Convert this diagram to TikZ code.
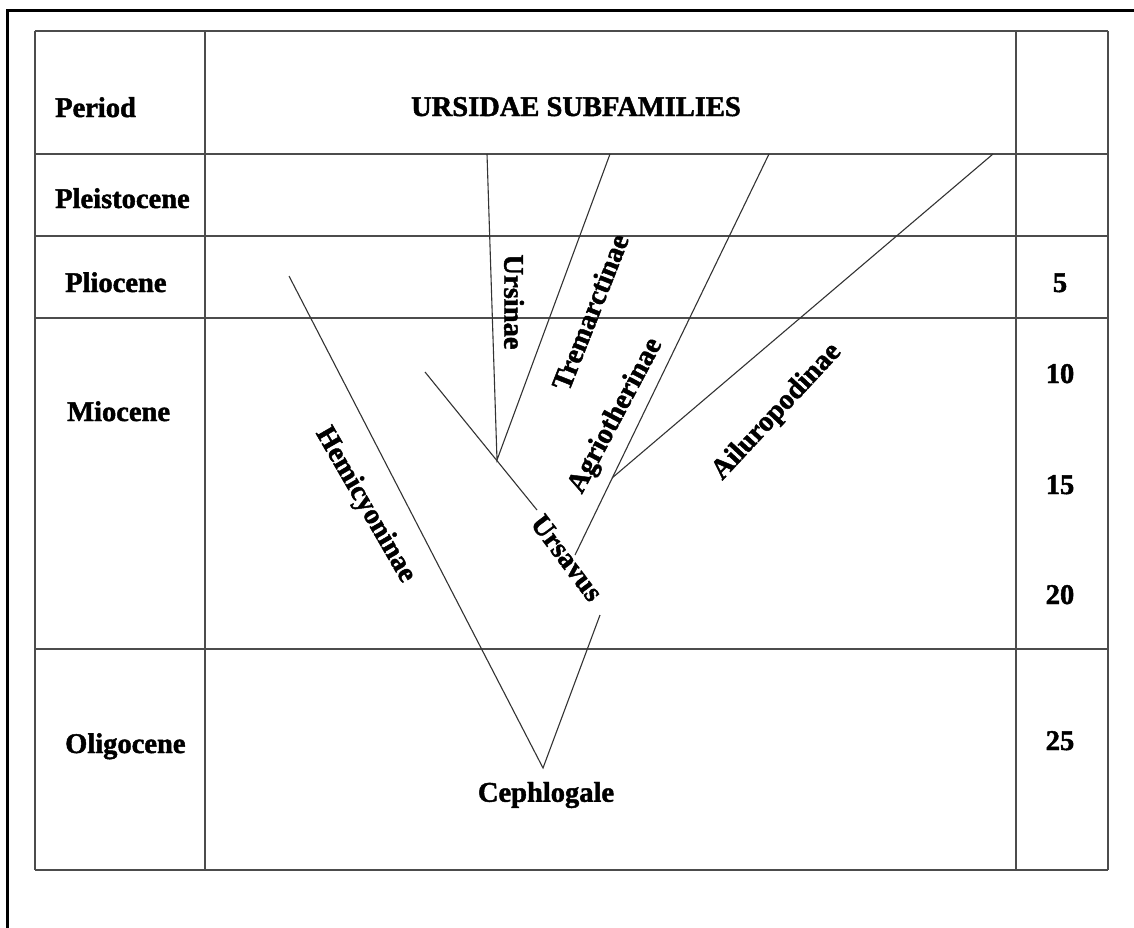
\documentclass[tikz,border=0pt]{standalone}
\usepackage{fontspec}
\setmainfont{Liberation Serif}
% heavy serif used for every label in the chart
\newfontfamily\heavy[BoldFeatures={FakeBold=1.6}]{Liberation Serif}
\begin{document}
\begin{tikzpicture}[x=1pt,y=-1pt,
  grid/.style={draw=black!70,line width=1.6pt},
  frame/.style={draw=black,line width=3pt},
  branch/.style={draw=black!80,line width=1.1pt},
  lbl/.style={inner sep=0pt,font=\heavy\fontsize{28.5}{34}\selectfont\bfseries},
  period/.style={lbl,anchor=base west},
  age/.style={lbl,anchor=base}]
\useasboundingbox (0,0) rectangle (1134,927);
\fill[white] (0,0) rectangle (1134,927);

% outer page frame
\draw[frame] (7,940) -- (7,10) -- (1145,10);

% table grid
\foreach \yy in {31,154,236,318,649,870}
  \draw[grid] (35,\yy) -- (1108,\yy);
\foreach \xx in {35,205,1016,1108}
  \draw[grid] (\xx,31) -- (\xx,870);

% headings and periods
\node[period] (hPeriod) at (55,117) {Period};
\node[lbl,anchor=base] (hSub) at (576,116) {URSIDAE SUBFAMILIES};
\node[period] (pPleis) at (55,208) {Pleistocene};
\node[period] (pPlio) at (65,292) {Pliocene};
\node[period] (pMio) at (67,421) {Miocene};
\node[period] (pOlig) at (65,753) {Oligocene};

% ages (million years)
\node[age] (a5)  at (1060,292) {5};
\node[age] (a10) at (1060,383) {10};
\node[age] (a15) at (1060,494) {15};
\node[age] (a20) at (1060,604) {20};
\node[age] (a25) at (1060,750) {25};

% tree points
\coordinate (root)    at (543,768);
\coordinate (hemTip)  at (289,276);
\coordinate (armTip)  at (600,615);
\coordinate (ursvTop) at (425,372);
\coordinate (ursvEnd) at (537,510);
\coordinate (ursJ)    at (497,460);
\coordinate (ursTip)  at (487,154);
\coordinate (treTip)  at (610,154);
\coordinate (agrLow)  at (575,555);
\coordinate (agrTip)  at (769,154);
\coordinate (ailJ)    at (612,478);
\coordinate (ailTip)  at (993,154);

% branches
\draw[branch] (hemTip) -- (root) -- (armTip);
\draw[branch] (ursvTop) -- (ursvEnd);
\draw[branch] (ursTip) -- (ursJ) -- (treTip);
\draw[branch] (agrLow) -- (agrTip);
\draw[branch] (ailJ) -- (ailTip);

% taxon labels
\node[lbl] (tCeph) at (546,795) {Cephlogale};
\node[lbl,rotate=-60] (tHemi) at (365,505) {Hemicyoninae};
\node[lbl,rotate=-53] (tUrsv) at (567,558) {Ursavus};
\node[lbl,rotate=-90] (tUrsi) at (514,302) {Ursinae};
\node[lbl,rotate=68.5] (tTrem) at (590,312) {Tremarctinae};
\node[lbl,rotate=62] (tAgri) at (616,416) {Agriotherinae};
\node[lbl,rotate=47] (tAilu) at (777,412) {Ailuropodinae};
\end{tikzpicture}
\end{document}
